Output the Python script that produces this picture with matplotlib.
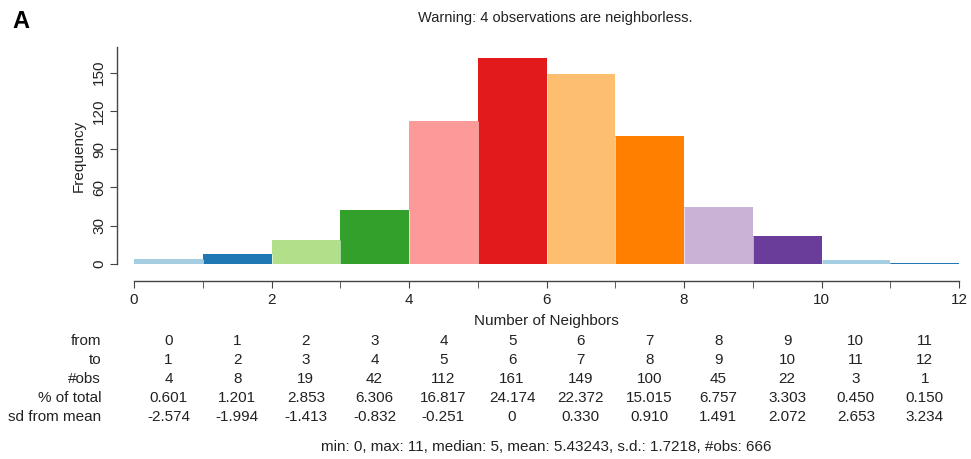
import numpy as np
import matplotlib
matplotlib.use("Agg")
import matplotlib.pyplot as plt
import matplotlib.transforms as mtransforms

plt.rcParams['font.family'] = ['Liberation Sans', 'DejaVu Sans']

# Data
bin_from = [0, 1, 2, 3, 4, 5, 6, 7, 8, 9, 10, 11]
bin_to = [1, 2, 3, 4, 5, 6, 7, 8, 9, 10, 11, 12]
n_obs = [4, 8, 19, 42, 112, 161, 149, 100, 45, 22, 3, 1]
pct_total = ["0.601", "1.201", "2.853", "6.306", "16.817", "24.174",
             "22.372", "15.015", "6.757", "3.303", "0.450", "0.150"]
sd_from_mean = ["-2.574", "-1.994", "-1.413", "-0.832", "-0.251", "0",
                "0.330", "0.910", "1.491", "2.072", "2.653", "3.234"]
bar_colors = ["#a6cee3", "#1f78b4", "#b2df8a", "#33a02c", "#fb9a99", "#e31a1c",
              "#fdbf6f", "#ff7f00", "#cab2d6", "#6a3d9a", "#a6cee3", "#1f78b4"]
summary = "min: 0, max: 11, median: 5, mean: 5.43243, s.d.: 1.7218, #obs: 666"

W, H = 971, 459
FS = 11
fig = plt.figure(figsize=(W / 100, H / 100), dpi=100)

# axes placed so that x 0..12 -> px 134..959, y 0..170 -> px 264..47
left, right = 134 / W, 959 / W
bottom, top = 1 - 264 / H, 1 - 47 / H
ax = fig.add_axes([left, bottom, right - left, top - bottom])

widths = np.array(bin_to) - np.array(bin_from)
ax.bar(bin_from, n_obs, width=widths, align='edge', color=bar_colors,
       edgecolor='none', linewidth=0)
# thin white separators between neighbouring bars
ax.vlines(bin_from[1:], 0, np.minimum(n_obs[:-1], n_obs[1:]),
          colors='white', linewidth=0.4)

ax.set_xlim(0, 12)
ax.set_ylim(0, 170)
ax.spines['top'].set_visible(False)
ax.spines['right'].set_visible(False)
ax.spines['left'].set_position(('outward', 12))
ax.spines['bottom'].set_position(('outward', 12))
for s in ['left', 'bottom']:
    ax.spines[s].set_color('#444444')
    ax.spines[s].set_linewidth(1.0)

ax.set_xticks(range(0, 13, 2))
ax.set_xticks(range(0, 13), minor=True)
ax.set_yticks(range(0, 151, 30))
ax.tick_params(axis='both', which='both', length=5, color='#444444',
               labelsize=FS, labelcolor='#222222')
ax.tick_params(axis='y', labelrotation=90, pad=3)
for lbl in ax.get_yticklabels():
    lbl.set_va('center')
ax.tick_params(axis='x', pad=4)

ax.set_xlabel("Number of Neighbors", fontsize=FS, labelpad=5, color='#222222')
ax.set_ylabel("Frequency", fontsize=FS, labelpad=5, color='#222222')

# title and panel letter
fig.text(555 / W, 1 - 18 / H, "Warning: 4 observations are neighborless.",
         ha='center', va='center', fontsize=10.5, color='#222222')
fig.text(12 / W, 1 - 22 / H, "A", ha='left', va='center', fontsize=17,
         fontweight='bold', color='black')

# table below axis
trans = mtransforms.blended_transform_factory(ax.transData, fig.transFigure)
row_names = ["from", "to", "#obs", "% of total", "sd from mean"]
rows = [[str(v) for v in bin_from], [str(v) for v in bin_to],
        [str(v) for v in n_obs], pct_total, sd_from_mean]
row_y = [341, 360, 379, 398, 417]
centers = np.array(bin_from) + widths / 2
for name, vals, py in zip(row_names, rows, row_y):
    fy = 1 - py / H
    fig.text(101 / W, fy, name, ha='right', va='center', fontsize=FS,
             color='#222222')
    for cx, v in zip(centers, vals):
        ax.text(cx, fy, v, transform=trans, ha='center', va='center',
                fontsize=FS, color='#222222')

fig.text(546 / W, 1 - 447 / H, summary, ha='center', va='center',
         fontsize=FS, color='#222222')

fig.savefig("out.png", dpi=100)
